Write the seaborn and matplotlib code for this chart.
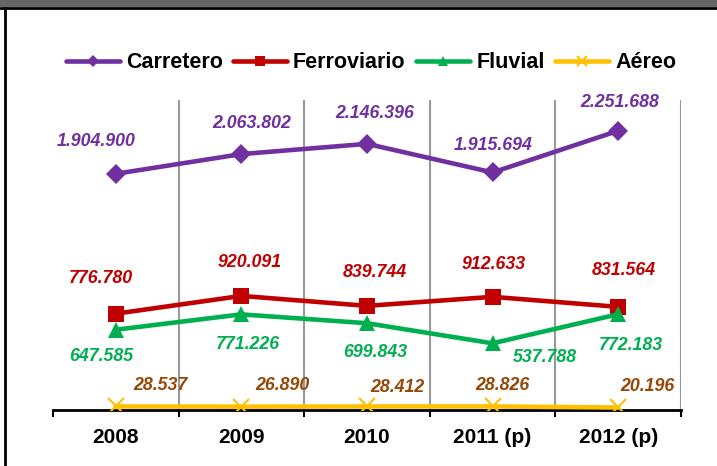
import matplotlib
matplotlib.use("Agg")
import matplotlib.pyplot as plt
from matplotlib.lines import Line2D
from matplotlib.patches import Rectangle
import seaborn as sns
import pandas as pd

# data
years = ["2008", "2009", "2010", "2011 (p)", "2012 (p)"]
carretero = [1904900, 2063802, 2146396, 1915694, 2251688]
ferroviario = [776780, 920091, 839744, 912633, 831564]
fluvial = [647585, 771226, 699843, 537788, 772183]
aereo = [28537, 26890, 28412, 28826, 20196]

series_names = ["Carretero", "Ferroviario", "Fluvial", "Aéreo"]
series_values = [carretero, ferroviario, fluvial, aereo]

colors = {"Carretero": "#7030A0", "Ferroviario": "#C00000",
          "Fluvial": "#00B050", "Aéreo": "#FFC000"}
label_colors = {"Carretero": "#7030A0", "Ferroviario": "#C00000",
                "Fluvial": "#00B050", "Aéreo": "#974706"}
markers = {"Carretero": "D", "Ferroviario": "s", "Fluvial": "^", "Aéreo": "x"}
msizes = {"Carretero": 10, "Ferroviario": 11.5, "Fluvial": 12, "Aéreo": 12}

# label offsets in pixels (dx, dy), dy positive = up
offsets = {
    "Carretero": [(-20, 32), (10, 31), (8, 30), (1, 27), (2, 28)],
    "Ferroviario": [(-15, 35), (8, 33), (8, 33), (1, 32), (6, 36)],
    "Fluvial": [(-15, -27), (6, -30), (8, -29), (52, -14), (13, -31)],
    "Aéreo": [(45, 21), (41, 21), (30, 19), (10, 21), (29, 21)],
}

def fmt(v):
    return f"{v:,}".replace(",", ".")

rows = []
for name, vals in zip(series_names, series_values):
    for i, v in enumerate(vals):
        rows.append({"pos": i, "year": years[i], "serie": name, "valor": v})
df = pd.DataFrame(rows)

sns.set_theme(style="white")
plt.rcParams["font.family"] = ["Liberation Sans", "DejaVu Sans"]
plt.rcParams["text.color"] = "black"

fig = plt.figure(figsize=(7.17, 4.66), dpi=100)
ax = fig.add_axes([53 / 717, 56 / 466, 628 / 717, 310 / 466])

for name in series_names:
    sub = df[df["serie"] == name]
    mk = markers[name]
    sns.lineplot(data=sub, x="pos", y="valor", ax=ax, color=colors[name],
                 linewidth=3.3, marker=mk, markersize=msizes[name],
                 markeredgecolor=colors[name],
                 markeredgewidth=1.5 if mk == "x" else 0,
                 label=name, legend=False, zorder=3)
    for i, v in enumerate(sub["valor"]):
        dx, dy = offsets[name][i]
        ax.annotate(fmt(v), (i, v), xytext=(dx * 0.72, dy * 0.72),
                    textcoords="offset points", ha="center", va="center",
                    fontsize=12.8, fontweight="bold", fontstyle="italic",
                    color=label_colors[name], zorder=4)

ax.set_xlim(-0.5, 4.5)
ax.set_ylim(0, 2500000)
ax.set_xticks(range(len(years)))
ax.set_xticklabels(years, fontsize=15, fontweight="bold", color="black")
ax.set_xticks([i - 0.5 for i in range(len(years) + 1)], minor=True)
ax.tick_params(axis="x", which="major", length=0, pad=13)
ax.tick_params(axis="x", which="minor", length=5, width=1.5, color="black",
               direction="out", bottom=True)
ax.xaxis.grid(True, which="minor", color="#999999", linewidth=1.5)
ax.xaxis.get_minor_ticks()[0].gridline.set_visible(False)
ax.set_yticks([])
ax.set_xlabel("")
ax.set_ylabel("")
for s in ["top", "right", "left"]:
    ax.spines[s].set_visible(False)
ax.spines["bottom"].set_color("black")
ax.spines["bottom"].set_linewidth(2)

handles, labels = ax.get_legend_handles_labels()
leg = fig.legend(handles, labels, loc="center", bbox_to_anchor=(371 / 717, 1 - 63 / 466),
                 ncol=4, frameon=False, handlelength=2.5, columnspacing=0.5,
                 handletextpad=0.28, markerscale=0.6, labelcolor="black",
                 prop={"weight": "bold", "size": 15.5})

# frame decoration: grey band on top, black rules
fig.patches.append(Rectangle((0, 1 - 7 / 466), 1, 7 / 466, transform=fig.transFigure,
                             facecolor="#666666", edgecolor="none"))
fig.lines.append(Line2D([0, 1], [1 - 8 / 466] * 2, transform=fig.transFigure,
                        color="black", linewidth=2))
fig.lines.append(Line2D([5 / 717] * 2, [0, 1 - 8 / 466], transform=fig.transFigure,
                        color="black", linewidth=2))

fig.savefig("out.png", dpi=100)
